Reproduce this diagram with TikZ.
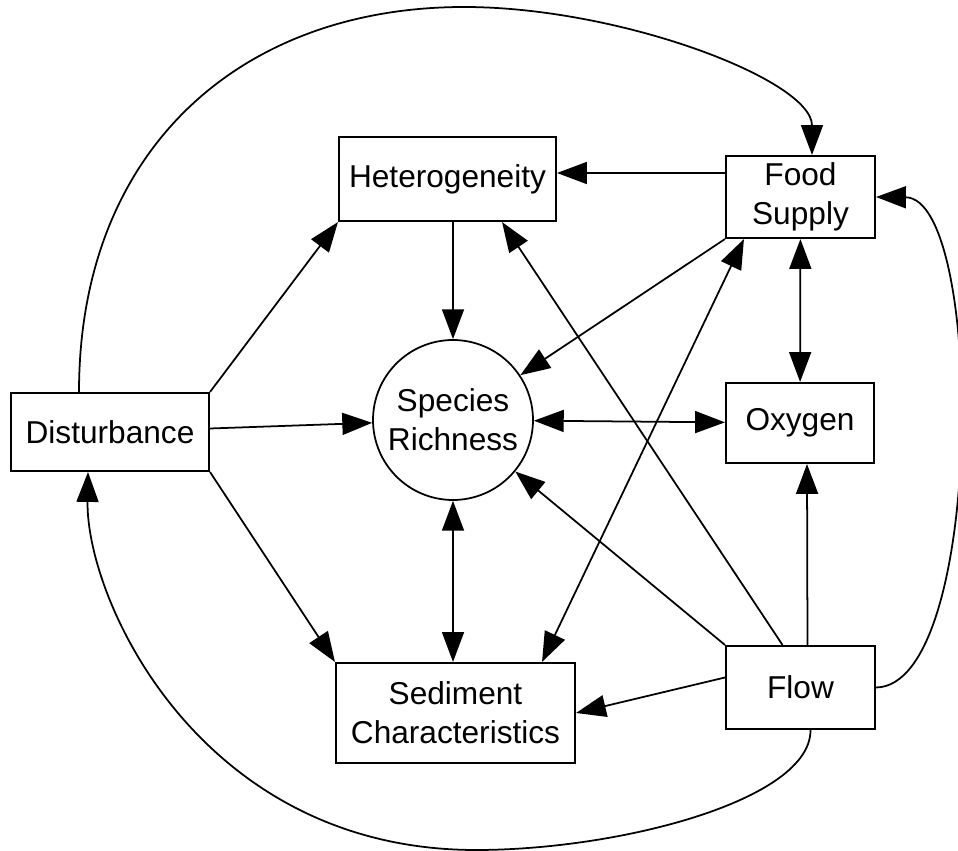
\documentclass[tikz,border=0pt]{standalone}
\usepackage{fontspec}
\setmainfont{Liberation Sans}
\usetikzlibrary{arrows.meta}
\tikzset{
  box/.style={draw,line width=1.2pt,align=center,inner sep=2pt,font=\fontsize{18}{22}\selectfont},
  ring/.style={draw,circle,line width=1pt,minimum size=3.2cm,align=center,inner sep=0pt,font=\fontsize{18}{22}\selectfont},
}
\begin{document}
\begin{tikzpicture}[x=0.02cm,y=-0.02cm,>={Triangle[length=17pt,width=12.5pt]},line width=1pt]
\useasboundingbox (0,0) rectangle (958,851);
% boxes begin
\node[box,minimum width=4.34cm,minimum height=1.68cm] (het) at (447.5,179) {Heterogeneity};
\node[box,minimum width=2.98cm,minimum height=1.64cm] (food) at (800.5,197) {Food\\Supply};
\node[box,minimum width=3.96cm,minimum height=1.56cm] (dist) at (110,432) {Disturbance};
\node[ring] (sr) at (453,420) {Species\\Richness};
\node[box,minimum width=2.96cm,minimum height=1.6cm] (oxy) at (800,423) {Oxygen};
\node[box,minimum width=4.78cm,minimum height=2cm] (sed) at (455.5,713) {Sediment\\Characteristics};
\node[box,minimum width=2.98cm,minimum height=1.66cm] (flow) at (800.5,687.5) {Flow};
% boxes end
\draw[->] ([yshift=0.12cm]het.east -| food.west) -- ([yshift=0.12cm]het.east);
\draw[->] (sr.north |- het.south) -- (sr.north);
\draw[->] (dist.north east) -- (het.south west);
\draw[->] (dist) -- (sr);
\draw[->] (dist.south east) -- (sed.north west);
\draw[->] (food.south west) -- (sr);
\draw[<->] (food) -- (oxy);
\draw[<->] (sr) -- (oxy);
\draw[<->] (sr.south) -- (sr.south |- sed.north);
\draw[<->] ([xshift=-0.68cm]sed.north east) -- ([xshift=0.38cm]food.south west);
\draw[->] ([xshift=-0.36cm]flow.north) -- ([xshift=-1.1cm]het.south east);
\draw[->] (flow.north west) -- (sr);
\draw[->] ([xshift=0.14cm]flow.north) -- ([xshift=0.14cm]oxy.south);
\draw[->] ([yshift=0.2cm]flow.west) -- (sed.east);
% loops round the outside
\draw[->] ([xshift=-0.62cm]dist.north) .. controls (79,150) and (240,7) .. (464,7)
  .. controls (620,7) and (812,80) .. ([xshift=0.23cm]food.north);
\draw[->] (flow.east) .. controls (985,686) and (985,198) .. (food.east);
\draw[->] ([xshift=0.2cm]flow.south) .. controls (811,800) and (620,850) .. (476,850)
  .. controls (200,850) and (86,600) .. ([xshift=-0.44cm]dist.south);
\end{tikzpicture}
\end{document}
